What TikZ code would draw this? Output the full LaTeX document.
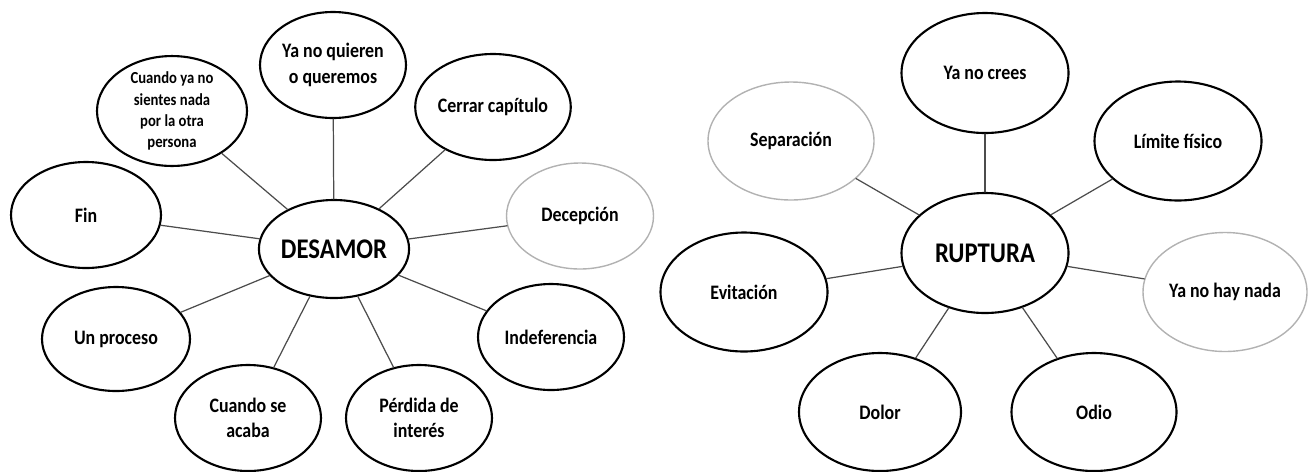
\documentclass[tikz,border=0pt]{standalone}
\usepackage{fontspec}
\setmainfont{Carlito}[FakeStretch=0.87]
\usetikzlibrary{shapes.geometric}
\begin{document}
\begin{tikzpicture}[x=0.02cm, y=-0.02cm, line join=round, line cap=round,
  font=\bfseries\fontsize{11.7}{14.5}\selectfont,
  idea/.style={ellipse, draw, line width=1.2pt, inner sep=0pt, align=center},
  size/.style 2 args={minimum width=#1*0.02cm, minimum height=#2*0.02cm},
  faint/.style={draw=black!30, line width=0.8pt},
  hub/.style={idea, font=\bfseries\fontsize{16.2}{19}\selectfont},
  link/.style={line width=0.7pt, black!70}]
\useasboundingbox (0,0) rectangle (1311,471);
% desamor
\node[hub, size={148}{98}] (desamor) at (334,249) {DESAMOR};
\node[idea, size={146}{106}] (quieren) at (333,65) {Ya no quieren\\o queremos};
\node[idea, size={150}{92}, font=\bfseries\fontsize{9.6}{12}\selectfont] (sientes) at (172,111) {Cuando ya no\\sientes nada\\por la otra\\persona};
\node[idea, size={146}{106}] (cerrar) at (493,107) {Cerrar capítulo};
\node[idea, size={150}{106}] (fin) at (86,215) {Fin};
\node[idea, faint, size={147}{106}] (decepcion) at (580,216) {Decepción};
\node[idea, size={148}{104}] (proceso) at (116,339) {Un proceso};
\node[idea, size={146}{106}] (indeferencia) at (551,337) {Indeferencia};
\node[idea, size={146}{106}] (acaba) at (248,418) {Cuando se\\acaba};
\node[idea, size={146}{106}] (perdida) at (419,418) {Pérdida de\\interés};
\foreach \n in {quieren,sientes,cerrar,fin,decepcion,proceso,indeferencia,acaba,perdida}
  \draw[link] (desamor) -- (\n);
% ruptura
\node[hub, size={167}{120}] (ruptura) at (985,253) {RUPTURA};
\node[idea, size={167}{120}] (crees) at (985,73) {Ya no crees};
\node[idea, faint, size={166}{118}] (separacion) at (791,141) {Separación};
\node[idea, size={167}{119}] (limite) at (1178,141) {Límite físico};
\node[idea, size={167}{119}] (evitacion) at (744,292) {Evitación};
\node[idea, faint, size={164}{119}] (nada) at (1225,292) {Ya no hay nada};
\node[idea, size={162}{118}] (dolor) at (880,412) {Dolor};
\node[idea, size={165}{118}] (odio) at (1094,412) {Odio};
\foreach \n in {crees,separacion,limite,evitacion,nada,dolor,odio}
  \draw[link] (ruptura) -- (\n);
\end{tikzpicture}
\end{document}
